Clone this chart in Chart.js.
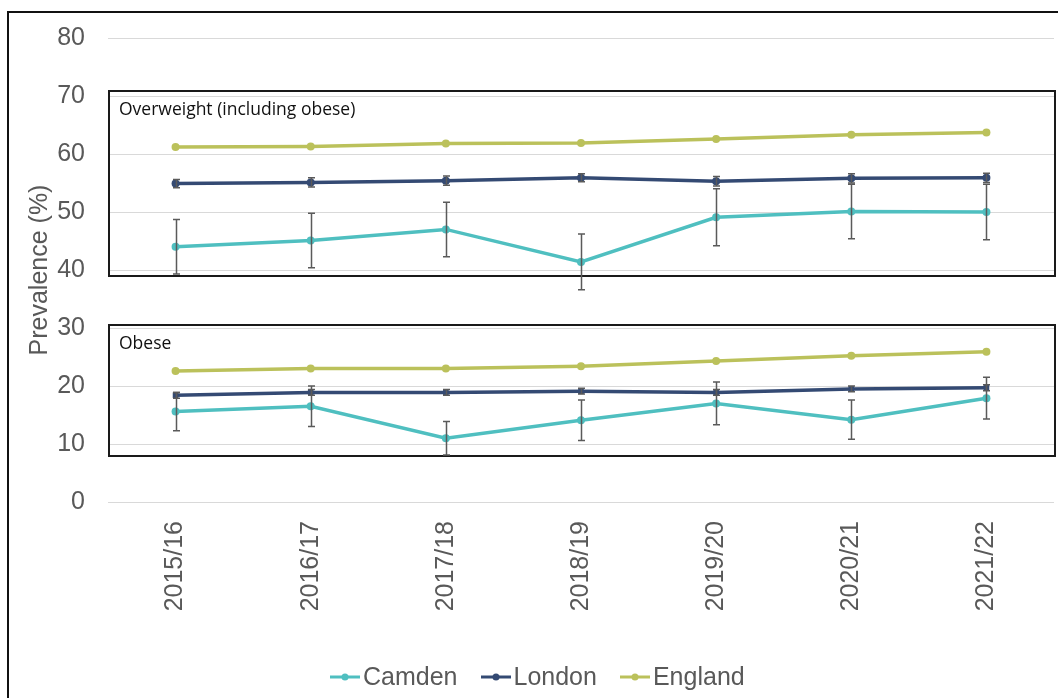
<!DOCTYPE html>
<html>
<head>
<meta charset="utf-8">
<script src="https://cdn.jsdelivr.net/npm/chart.js@4.4.1/dist/chart.umd.min.js"></script>
<style>
  html, body { margin: 0; padding: 0; background: #fff; overflow: hidden; }
  #wrap { position: relative; width: 1058px; height: 698px; }
  #frame { position: absolute; left: 7px; top: 11px; width: 1200px; height: 900px; border: 2px solid #111; box-sizing: border-box; }
  #myChart { position: absolute; left: 0; top: 0; }
  #legend { position: absolute; left: 330px; top: 662px; display: flex; align-items: center;
            font: 25px "Liberation Sans", Arial, sans-serif; color: #595959; white-space: nowrap; }
  #legend .item { display: flex; align-items: center; margin-right: 23px; }
  #legend canvas { margin-right: 3px; }
</style>
</head>
<body>
<div id="wrap">
  <div id="frame"></div>
  <canvas id="myChart" width="1058" height="698"></canvas>
  <div id="legend"></div>
</div>
<script>
const years = ["2015/16", "2016/17", "2017/18", "2018/19", "2019/20", "2020/21", "2021/22"];
const areas = ["Camden", "London", "England"];
const areaColours = ["#4fbfc0", "#344a73", "#bbc15b"];

// overweight (including obese), %
const camdenOverweight = [44.0, 45.1, 47.0, 41.4, 49.1, 50.1, 50.0];
const camdenOverweightErr = [4.7, 4.7, 4.7, 4.8, 4.9, 4.7, 4.8];
const londonOverweight = [54.9, 55.1, 55.4, 55.9, 55.3, 55.8, 55.9];
const londonOverweightErr = [0.7, 0.8, 0.8, 0.7, 0.8, 0.8, 0.8];
const englandOverweight = [61.2, 61.3, 61.8, 61.9, 62.6, 63.3, 63.7];

// obese, %
const camdenObese = [15.6, 16.5, 11.0, 14.1, 17.0, 14.2, 17.9];
const camdenObeseErr = [3.3, 3.5, 2.9, 3.5, 3.7, 3.4, 3.6];
const londonObese = [18.4, 18.9, 18.9, 19.1, 18.9, 19.5, 19.7];
const londonObeseErr = [0.5, 0.5, 0.5, 0.5, 0.5, 0.5, 0.5];
const englandObese = [22.6, 23.0, 23.0, 23.4, 24.3, 25.2, 25.9];

const yTicks = [0, 10, 20, 30, 40, 50, 60, 70, 80];

const axisFont = { family: "'Liberation Sans', Arial, sans-serif", size: 25 };
const grey = "#595959";

const makeSet = (name, i, values, err, style) => ({
  label: name,
  data: values,
  err: err,
  borderColor: areaColours[i],
  backgroundColor: areaColours[i],
  borderWidth: 3.5,
  pointRadius: 4,
  pointStyle: style || "circle",
  pointBorderWidth: 0,
  pointHoverRadius: 4,
  tension: 0
});

const datasets = [
  makeSet("Camden", 0, camdenOverweight, camdenOverweightErr),
  makeSet("London", 1, londonOverweight, londonOverweightErr),
  makeSet("England", 2, englandOverweight, null),
  makeSet("Camden", 0, camdenObese, camdenObeseErr),
  makeSet("London", 1, londonObese, londonObeseErr, "rect"),
  makeSet("England", 2, englandObese, null)
];

// the two framed panels with their captions
const panels = [
  { caption: "Overweight (including obese)", top: 70.9, bottom: 38.9 },
  { caption: "Obese", top: 30.6, bottom: 7.9 }
];

const panelPlugin = {
  id: "panels",
  beforeDatasetsDraw(chart) {
    const ctx = chart.ctx;
    const y = chart.scales.y;
    const area = chart.chartArea;
    ctx.save();
    panels.forEach(p => {
      const top = Math.round(y.getPixelForValue(p.top));
      const bottom = Math.round(y.getPixelForValue(p.bottom));
      ctx.strokeStyle = "#1a1a1a";
      ctx.lineWidth = 2;
      ctx.strokeRect(area.left + 1, top, area.right - area.left, bottom - top);
      ctx.fillStyle = "#111";
      ctx.font = "17.5px 'Open Sans', sans-serif";
      ctx.textBaseline = "alphabetic";
      ctx.fillText(p.caption, area.left + 11, top + 24);
    });
    ctx.restore();
  }
};

const errorBarPlugin = {
  id: "errorBars",
  afterDatasetsDraw(chart) {
    const ctx = chart.ctx;
    const y = chart.scales.y;
    ctx.save();
    ctx.strokeStyle = "#5a5a5a";
    ctx.lineWidth = 1.5;
    chart.data.datasets.forEach((ds, di) => {
      if (!ds.err) return;
      const meta = chart.getDatasetMeta(di);
      meta.data.forEach((pt, i) => {
        const hi = y.getPixelForValue(ds.data[i] + ds.err[i]);
        const lo = y.getPixelForValue(ds.data[i] - ds.err[i]);
        const x = Math.round(pt.x) + 0.5;
        ctx.beginPath();
        ctx.moveTo(x, hi); ctx.lineTo(x, lo);
        ctx.moveTo(x - 3.5, hi); ctx.lineTo(x + 3.5, hi);
        ctx.moveTo(x - 3.5, lo); ctx.lineTo(x + 3.5, lo);
        ctx.stroke();
      });
    });
    ctx.restore();
  }
};

new Chart(document.getElementById("myChart"), {
  type: "line",
  data: { labels: years, datasets: datasets },
  options: {
    responsive: false,
    animation: false,
    devicePixelRatio: 1,
    layout: { padding: { top: 37, right: 3, bottom: 0, left: 0 } },
    plugins: { legend: { display: false }, tooltip: { enabled: false } },
    scales: {
      x: {
        offset: true,
        grid: { display: false },
        border: { display: false },
        ticks: { color: grey, font: axisFont, minRotation: 90, maxRotation: 90, autoSkip: false, padding: 11 },
        afterFit: s => { s.height = 196; }
      },
      y: {
        min: 0, max: 80,
        afterBuildTicks: s => { s.ticks = yTicks.map(v => ({ value: v })); },
        grid: { color: "#d9d9d9", lineWidth: 1, drawTicks: false },
        border: { display: false },
        ticks: { color: grey, font: axisFont, padding: 23 },
        title: { display: true, text: "Prevalence (%)", color: grey, font: axisFont, padding: { top: 25, bottom: 0 } },
        afterFit: s => { s.width = 108; }
      }
    }
  },
  plugins: [panelPlugin, errorBarPlugin]
});

// legend: line with a dot for each area
const legend = document.getElementById("legend");
areas.forEach((name, i) => {
  const item = document.createElement("div");
  item.className = "item";
  const icon = document.createElement("canvas");
  icon.width = 30; icon.height = 10;
  const g = icon.getContext("2d");
  g.strokeStyle = areaColours[i]; g.lineWidth = 3;
  g.beginPath(); g.moveTo(0, 5); g.lineTo(30, 5); g.stroke();
  g.fillStyle = areaColours[i];
  g.beginPath(); g.arc(15, 5, 3.5, 0, Math.PI * 2); g.fill();
  item.appendChild(icon);
  item.appendChild(document.createTextNode(name));
  legend.appendChild(item);
});
</script>
</body>
</html>
